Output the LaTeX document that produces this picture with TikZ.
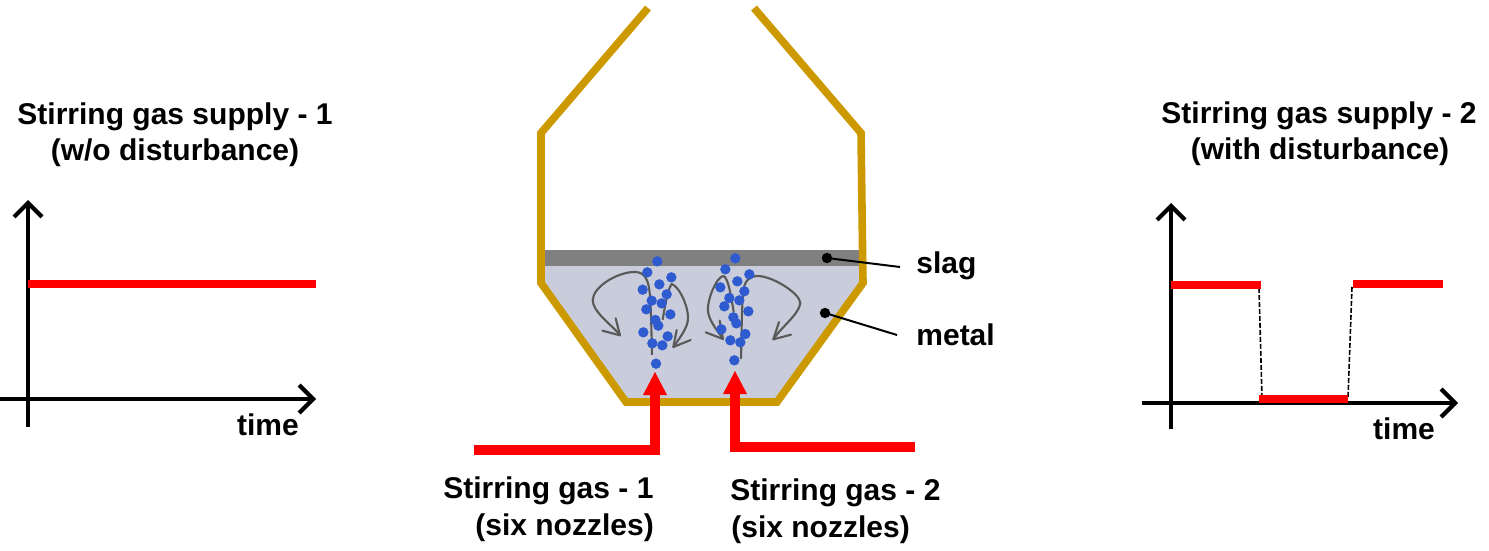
\documentclass[tikz,border=0pt]{standalone}
\usepackage{fontspec}
\setmainfont{Liberation Sans}
\usetikzlibrary{arrows.meta}
\definecolor{vesselc}{HTML}{CC9900}
\definecolor{metalc}{HTML}{C9CCDA}
\definecolor{slagc}{HTML}{808080}
\definecolor{dotc}{HTML}{2F5BD0}
\definecolor{flowc}{HTML}{595959}
\tikzset{
  x=0.5pt,y=-0.5pt,
  lab/.style={font=\bfseries\fontsize{15pt}{17pt}\selectfont,inner sep=0pt,anchor=base,text=black},
  axisline/.style={line width=2.1pt,black,-{Straight Barb[length=7pt,width=14pt,line width=2.1pt]}},
  supply/.style={line width=3.8pt,red},
  pipe/.style={line width=4.6pt,red},
  vessel/.style={line width=3.8pt,vesselc,line join=miter},
  flow/.style={line width=1.05pt,flowc,line cap=round,line join=round},
  bub/.style={circle,fill=dotc,inner sep=0pt,minimum size=5.2pt},
  pin/.style={circle,fill=black,inner sep=0pt,minimum size=5.2pt},
  leader/.style={line width=1pt,black},
  trans/.style={line width=0.8pt,black,dash pattern=on 2.5pt off 1pt},
  zoomed/.style={shift={(530,240)},x=0.16667pt,y=-0.16667pt}
}
\begin{document}
\begin{tikzpicture}
\useasboundingbox (0,0) rectangle (1489,551);
% metal and slag
\fill[metalc] (541,283) -- (541,250) -- (861,250) -- (863,283) -- (776,401) -- (626,401) -- cycle;
\fill[slagc] (543,250) rectangle (860,266);
% vessel
\draw[vessel] (648,8) -- (541,133) -- (541,283) -- (626,402) -- (777,402) -- (863,283) -- (861,133) -- (754,8);
% flow curves and bubbles
\begin{scope}[zoomed]
\draw[flow] (366,343) .. controls (364,280) and (364,200) .. (358,150) .. controls (352,105) and (335,95) .. (310,96) .. controls (260,98) and (190,140) .. (188,180) .. controls (188,215) and (240,250) .. (270,285);
\draw[flow] (257,235) -- (270,286) -- (217,272);
\draw[flow] (398,238) .. controls (405,200) and (412,150) .. (425,132) .. controls (450,140) and (480,210) .. (473,245) .. controls (468,270) and (445,300) .. (430,321);
\draw[flow] (482,300) -- (430,321) -- (440,270);
\draw[flow] (611,215) .. controls (605,180) and (595,110) .. (580,108) .. controls (560,110) and (530,180) .. (534,215) .. controls (538,245) and (565,275) .. (579,297);
\draw[flow] (569,242) -- (579,297) -- (527,277);
\draw[flow] (633,355) .. controls (635,280) and (635,200) .. (640,150) .. controls (645,120) and (660,108) .. (685,108) .. controls (730,110) and (810,160) .. (811,190) .. controls (805,225) and (755,260) .. (730,298);
\draw[flow] (783,284) -- (730,298) -- (747,246);
\foreach \px/\py in {382/64,352/97,424/112,388/133,338/149,410/163,365/182,395/190,349/208,421/223,376/240,385/257,340/277,413/289,367/310,397/316,378/371,
616/55,586/88,658/103,622/124,571/142,643/154,598/174,628/181,583/199,655/214,610/232,619/250,574/268,646/282,601/301,631/307,613/361}
  \node[bub] at (\px,\py) {};
\end{scope}
% gas pipes
\coordinate (g1s) at (474,450);
\coordinate (g1c) at (655,450);
\coordinate (g1t) at (655,372);
\coordinate (g2s) at (915,447);
\coordinate (g2c) at (735,447);
\coordinate (g2t) at (735,371);
\draw[pipe,-{Triangle[length=11.5pt,width=12pt,line width=0pt]}] (g1s) -- (g1c) -- (g1t);
\draw[pipe,-{Triangle[length=11.5pt,width=12pt,line width=0pt]}] (g2s) -- (g2c) -- (g2t);
% leaders
\node[pin] (pslag) at (827,258) {};
\node[pin] (pmetal) at (825,313) {};
\coordinate (lslag) at (900,267);
\coordinate (lmetal) at (897,335);
\draw[leader] (pslag.center) -- (lslag);
\draw[leader] (pmetal.center) -- (lmetal);
\node[lab,anchor=base west] (tslag) at (916,273) {slag};
\node[lab,anchor=base west] (tmetal) at (916,345) {metal};
\node[lab] at (175,125) {Stirring gas supply - 1};
\node[lab] at (175,161) {(w/o disturbance)};
\node[lab] at (1319,124) {Stirring gas supply - 2};
\node[lab] at (1320,160) {(with disturbance)};
\node[lab] at (268,435) {time};
\node[lab] at (1404,439) {time};
\node[lab,anchor=base west] at (443,498) {Stirring gas - 1};
\node[lab,anchor=base west] at (475,535) {(six nozzles)};
\node[lab,anchor=base west] at (730,500) {Stirring gas - 2};
\node[lab,anchor=base west] at (731,537) {(six nozzles)};
% left plot
\coordinate (la0) at (28,427);
\coordinate (la1) at (28,200);
\coordinate (lb0) at (0,399);
\coordinate (lb1) at (316,399);
\draw[axisline] (la0) -- (la1);
\draw[axisline] (lb0) -- (lb1);
\coordinate (ls0) at (28,284);
\coordinate (ls1) at (316,284);
\draw[supply] (ls0) -- (ls1);
% right plot
\coordinate (ra0) at (1171,429);
\coordinate (ra1) at (1171,203);
\coordinate (rb0) at (1142,403);
\coordinate (rb1) at (1458,403);
\draw[axisline] (ra0) -- (ra1);
\draw[axisline] (rb0) -- (rb1);
\coordinate (r1a) at (1171,285);
\coordinate (r1b) at (1261,285);
\coordinate (r2a) at (1259,399);
\coordinate (r2b) at (1348,399);
\coordinate (r3a) at (1353,284);
\coordinate (r3b) at (1443,284);
\draw[trans] (1259,288) -- (1262,398);
\draw[trans] (1352,287) -- (1348,398);
\draw[supply] (r1a) -- (r1b);
\draw[supply] (r2a) -- (r2b);
\draw[supply] (r3a) -- (r3b);
\end{tikzpicture}
\end{document}
